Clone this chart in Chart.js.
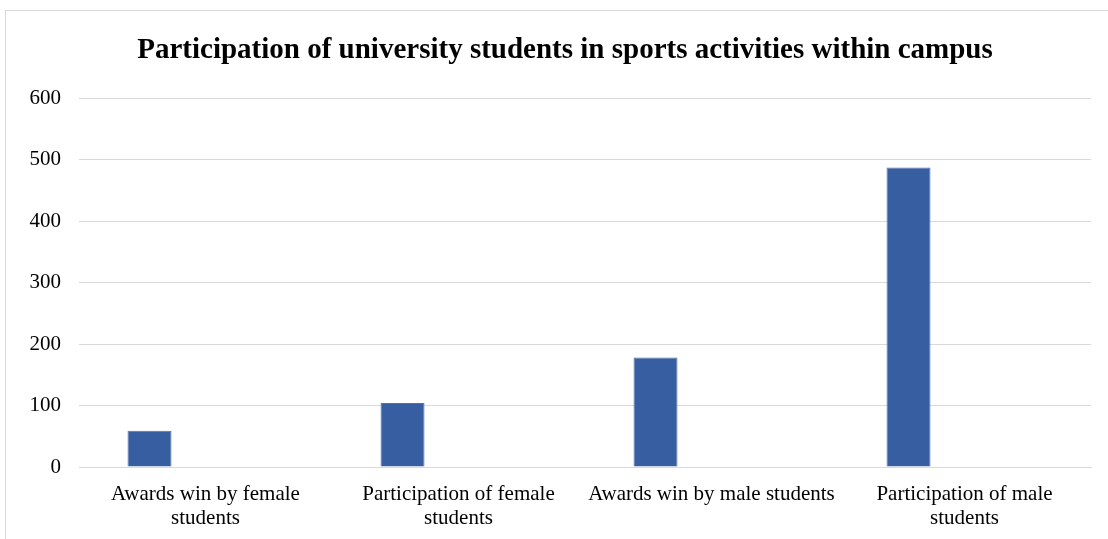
<!DOCTYPE html>
<html>
<head>
<meta charset="utf-8">
<script src="https://cdn.jsdelivr.net/npm/chart.js@4/dist/chart.umd.min.js"></script>
<style>
  html, body { margin: 0; padding: 0; background: #fff; overflow: hidden; }
  #frame { position: absolute; left: 5px; top: 10px; width: 1200px; height: 600px; border: 1px solid #d9d9d9; }
  #wrap { position: absolute; left: 0; top: 0; width: 1108px; height: 539px; }
  #title {
    position: absolute; left: 0; top: 31px; width: 1130px; text-align: center;
    font: bold 29px/35px "Liberation Serif", "Times New Roman", serif; color: #000; white-space: nowrap;
  }
</style>
</head>
<body>
<div id="frame"></div>
<div id="wrap"><canvas id="chart"></canvas></div>
<div id="title">Participation of university students in sports activities within campus</div>
<script>
// Data
const categories = [
  ["Awards win by female", "students"],
  ["Participation of female", "students"],
  "Awards win by male students",
  ["Participation of male", "students"],
];
const studentCounts = [59, 104, 178, 487];
const emptySeries = [null, null, null, null];
const yTicks = [0, 100, 200, 300, 400, 500, 600];

const SERIF = '"Liberation Serif", "Times New Roman", serif';
const GRID = "#d9d9d9";

new Chart(document.getElementById("chart"), {
  type: "bar",
  data: {
    labels: categories,
    datasets: [
      { label: "Series1", data: studentCounts, backgroundColor: "#365ea0", borderColor: "#4d72b0", borderWidth: 1, borderSkipped: "bottom" },
      { label: "Series2", data: emptySeries, backgroundColor: "#ed7d31" },
    ],
  },
  options: {
    responsive: true,
    maintainAspectRatio: false,
    animation: false,
    categoryPercentage: 0.885,
    barPercentage: 0.393,
    layout: { padding: { left: 0, right: 17, top: 98, bottom: 0 } },
    plugins: {
      legend: { display: false },
      tooltip: { enabled: false },
      title: { display: false },
    },
    scales: {
      x: {
        grid: { display: false, drawTicks: false },
        border: { color: GRID },
        ticks: { color: "#000", font: { family: SERIF, size: 21, lineHeight: 1.13 }, padding: 16, maxRotation: 0, autoSkip: false },
        afterFit: (s) => { s.height = 72; },
      },
      y: {
        min: 0,
        max: 600,
        afterBuildTicks: (s) => { s.ticks = yTicks.map((v) => ({ value: v })); },
        grid: { color: GRID, drawTicks: false },
        border: { display: false },
        ticks: { color: "#000", font: { family: SERIF, size: 21 }, padding: 18 },
        afterFit: (s) => { s.width = 79; },
      },
    },
  },
});
</script>
</body>
</html>
